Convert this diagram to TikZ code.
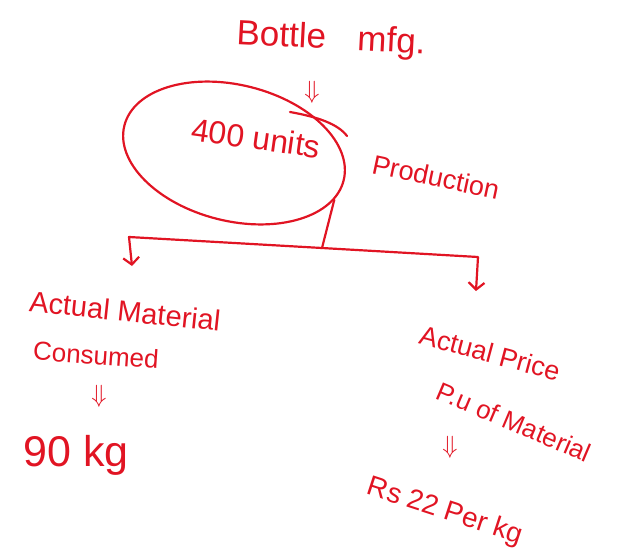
\documentclass[tikz,border=0pt]{standalone}
\usepackage{fontspec}
\setsansfont{Liberation Sans}
\usetikzlibrary{shapes.geometric,arrows.meta}
\definecolor{ink}{RGB}{225,20,35}

\newcommand{\inksize}[1]{\sffamily\fontsize{#1}{#1}\selectfont}

\tikzset{
  hand/.style={text=ink, inner sep=0pt, font=\inksize{27}},
  pen/.style={draw=ink, line width=2.2pt, line cap=round, line join=round},
  tip/.style={-{Straight Barb[length=7pt,width=16pt,line width=2.2pt]}},
}

\begin{document}
\begin{tikzpicture}[x=1pt,y=-1pt]
  \useasboundingbox (0,0) rectangle (621,551);

  % heading and batch
  \node[hand, font=\inksize{35}, rotate=-3] (title) at (331,40) {Bottle\hspace{0.9em}mfg.};
  \node[hand, font=\inksize{24}] (eqtop) at (312,92) {$\Downarrow$};
  \node[pen, ellipse, minimum width=226pt, minimum height=136pt, rotate=-14] (batch) at (234,153) {};
  \node[hand, font=\inksize{32}, rotate=-8] (units) at (256,138) {400 units};
  \node[hand, rotate=-12] (prod) at (436,177) {Production};
  \draw[pen] (290,112) .. controls (318,117) and (338,124) .. (347,136);

  % split into quantity and price
  \coordinate (split) at (322,248);
  \coordinate (lcorner) at (129,237);
  \coordinate (rcorner) at (478,257);
  \coordinate (ltip) at (132,266);
  \coordinate (rtip) at (476,291);
  \draw[pen] (batch.-11) -- (split);
  \draw[pen, tip] (split) -- (lcorner) -- (ltip);
  \draw[pen, tip] (split) -- (rcorner) -- (rtip);

  % quantity side
  \node[hand, font=\inksize{29}, rotate=-6] (used) at (125,311) {Actual Material};
  \node[hand, font=\inksize{26}, rotate=-4] (consumed) at (96,355) {Consumed};
  \node[hand, font=\inksize{24}] (eqleft) at (99,396) {$\Downarrow$};
  \node[hand, font=\inksize{43}] (kg) at (76,455) {90 kg};

  % price side
  \node[hand, rotate=-15] (price) at (490,353) {Actual Price};
  \node[hand, font=\inksize{26}, rotate=-23] (pu) at (514,422) {P.u of Material};
  \node[hand, font=\inksize{24}] (eqright) at (450,447) {$\Downarrow$};
  \node[hand, font=\inksize{28}, rotate=-18] (rate) at (445,512) {Rs 22 Per kg};
\end{tikzpicture}
\end{document}
